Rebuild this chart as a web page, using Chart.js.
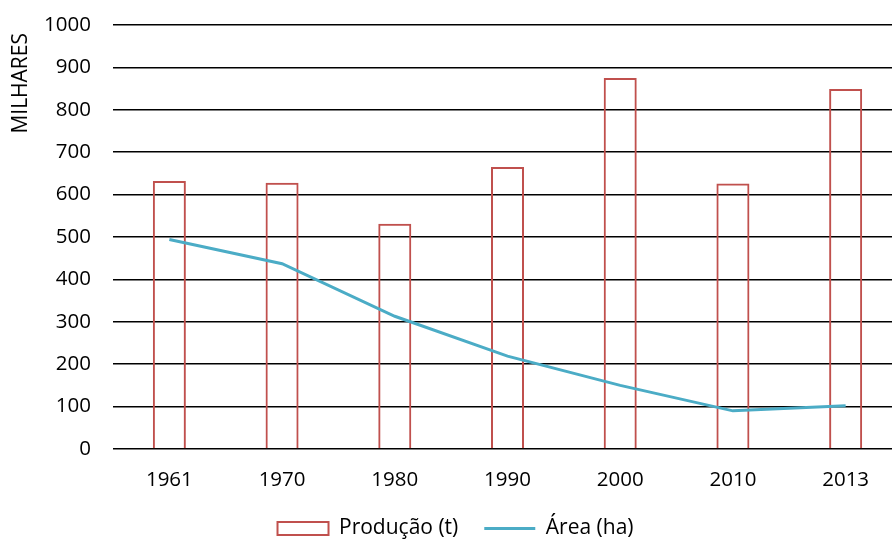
<!DOCTYPE html>
<html>
<head>
<meta charset="utf-8">
<script src="https://cdn.jsdelivr.net/npm/chart.js@4/dist/chart.umd.min.js"></script>
<style>
  html, body { margin: 0; padding: 0; background: #fff; overflow: hidden; }
  #wrap { position: relative; width: 904px; height: 544px; }
</style>
</head>
<body>
<div id="wrap"><canvas id="c"></canvas></div>
<script>
// Anos
const categories = ['1961', '1970', '1980', '1990', '2000', '2010', '2013'];
// Produção em milhares de toneladas
const producao = [632, 628, 531, 665, 875, 626, 849];
// Área em milhares de hectares
const area = [494, 437, 313, 219, 150, 90, 102];
// Marcas do eixo vertical
const yTicks = [0, 100, 200, 300, 400, 500, 600, 700, 800, 900, 1000];

const FONT = "'Open Sans', sans-serif";

// Título vertical do eixo Y, desenhado junto ao topo
const axisTitle = {
  id: 'axisTitle',
  afterDraw(chart) {
    const ctx = chart.ctx;
    ctx.save();
    ctx.font = "21px " + FONT;
    ctx.fillStyle = '#000';
    ctx.translate(21, 33);
    ctx.rotate(-Math.PI / 2);
    ctx.textAlign = 'right';
    ctx.textBaseline = 'middle';
    ctx.fillText('MILHARES', 0, 0);
    ctx.restore();
  }
};

new Chart(document.getElementById('c'), {
  data: {
    labels: categories,
    datasets: [
      {
        type: 'bar',
        label: 'Produção (t)',
        data: producao,
        backgroundColor: 'rgba(255,255,255,0)',
        borderColor: '#C0504D',
        borderWidth: 2,
        barPercentage: 0.293,
        categoryPercentage: 1,
        order: 1
      },
      {
        type: 'line',
        label: 'Área (ha)',
        data: area,
        borderColor: '#4BACC6',
        backgroundColor: '#4BACC6',
        borderWidth: 3,
        pointRadius: 0,
        tension: 0,
        fill: false,
        order: 0
      }
    ]
  },
  options: {
    responsive: true,
    maintainAspectRatio: false,
    animation: false,
    layout: { padding: { left: 9, top: 25, right: 2, bottom: 0 } },
    scales: {
      x: {
        grid: { display: false, drawTicks: false },
        border: { display: false },
        ticks: { font: { family: FONT, size: 20.5 }, color: '#000', padding: 19 },
        afterFit(scale) { scale.height = 43; }
      },
      y: {
        min: 0,
        max: 1000,
        afterBuildTicks(scale) { scale.ticks = yTicks.map(v => ({ value: v })); },
        grid: { color: '#000', lineWidth: 1.5, drawTicks: false },
        border: { display: false },
        ticks: {
          font: { family: FONT, size: 20.5 },
          color: '#000',
          padding: 22,
          callback: v => String(v)
        },
        afterFit(scale) {
          scale.width = 104;
          scale.paddingTop = 0;
          scale.paddingBottom = 0;
        }
      }
    },
    plugins: {
      tooltip: { enabled: false },
      legend: {
        position: 'bottom',
        maxHeight: 52,
        labels: {
          font: { family: FONT, size: 21 },
          color: '#000',
          usePointStyle: true,
          pointStyleWidth: 51,
          boxHeight: 13,
          padding: 26,
          sort: (a, b) => a.datasetIndex - b.datasetIndex,
          generateLabels(chart) {
            const items = Chart.defaults.plugins.legend.labels.generateLabels(chart);
            items.forEach(it => {
              if (it.datasetIndex === 0) {
                it.pointStyle = 'rect';
                it.fillStyle = 'rgba(255,255,255,0)';
                it.strokeStyle = '#C0504D';
                it.lineWidth = 2;
              } else {
                it.pointStyle = 'line';
                it.strokeStyle = '#4BACC6';
                it.lineWidth = 3;
              }
            });
            return items;
          }
        }
      }
    }
  },
  plugins: [axisTitle]
});
</script>
</body>
</html>
